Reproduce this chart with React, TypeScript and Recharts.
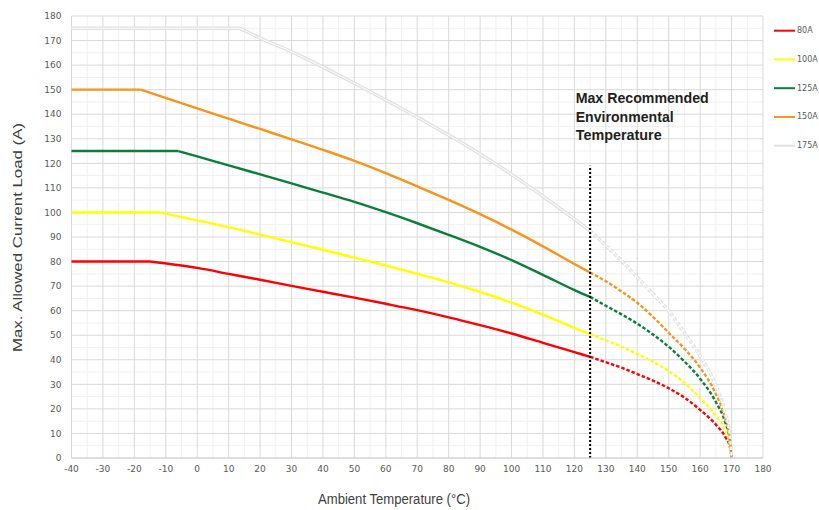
import React from "react";
import { LineChart, Line, XAxis, YAxis, CartesianGrid, ReferenceLine } from "recharts";

type P = { t: number; a: number };

const xTicks = [-40, -30, -20, -10, 0, 10, 20, 30, 40, 50, 60, 70, 80, 90, 100, 110, 120, 130, 140, 150, 160, 170, 180];
const yTicks = [0, 10, 20, 30, 40, 50, 60, 70, 80, 90, 100, 110, 120, 130, 140, 150, 160, 170, 180];
const xMinor = [-35, -25, -15, -5, 5, 15, 25, 35, 45, 55, 65, 75, 85, 95, 105, 115, 125, 135, 145, 155, 165, 175];
const yMinor = [5, 15, 25, 35, 45, 55, 65, 75, 85, 95, 105, 115, 125, 135, 145, 155, 165, 175];

// flat part: first two points; curved part: from the knee onward
const a80Solid: P[] = [
  { t: -40, a: 80 }, { t: -15, a: 80 }, { t: 0, a: 77.4 }, { t: 10, a: 75 }, { t: 20, a: 72.6 },
  { t: 30, a: 70.1 }, { t: 40, a: 67.7 }, { t: 50, a: 65.3 }, { t: 60, a: 62.8 }, { t: 70, a: 60.2 },
  { t: 80, a: 57.3 }, { t: 90, a: 54.1 }, { t: 100, a: 50.7 }, { t: 110, a: 46.9 }, { t: 120, a: 43.1 },
  { t: 125, a: 41.2 },
];
const a80Dash: P[] = [
  { t: 125, a: 41.2 }, { t: 130, a: 39 }, { t: 135, a: 36.8 }, { t: 140, a: 34.2 }, { t: 145, a: 31.5 },
  { t: 150, a: 28.4 }, { t: 155, a: 24.6 }, { t: 160, a: 19.6 }, { t: 165, a: 13.6 }, { t: 168, a: 8.6 },
  { t: 169.5, a: 4.3 }, { t: 170, a: 0 },
];

const a100Solid: P[] = [
  { t: -40, a: 100 }, { t: -12, a: 100 }, { t: 0, a: 96.8 }, { t: 10, a: 94 }, { t: 20, a: 91 },
  { t: 30, a: 87.9 }, { t: 40, a: 84.8 }, { t: 50, a: 81.6 }, { t: 60, a: 78.4 }, { t: 70, a: 75 },
  { t: 80, a: 71.5 }, { t: 90, a: 67.6 }, { t: 100, a: 63.3 }, { t: 110, a: 58.4 }, { t: 120, a: 53 },
  { t: 125, a: 50.4 },
];
const a100Dash: P[] = [
  { t: 125, a: 50.4 }, { t: 130, a: 47.9 }, { t: 135, a: 45.3 }, { t: 140, a: 42.4 }, { t: 145, a: 39.2 },
  { t: 150, a: 35.4 }, { t: 155, a: 30.6 }, { t: 160, a: 24.4 }, { t: 165, a: 17.2 }, { t: 168, a: 11 },
  { t: 169.5, a: 5.4 }, { t: 170, a: 0 },
];

const a125Solid: P[] = [
  { t: -40, a: 125 }, { t: -6, a: 125 }, { t: 0, a: 122.8 }, { t: 10, a: 119.2 }, { t: 20, a: 115.5 },
  { t: 30, a: 111.8 }, { t: 40, a: 108.1 }, { t: 50, a: 104.3 }, { t: 60, a: 100.1 }, { t: 70, a: 95.6 },
  { t: 80, a: 90.9 }, { t: 90, a: 86 }, { t: 100, a: 80.6 }, { t: 110, a: 74.6 }, { t: 120, a: 68.4 },
  { t: 125, a: 65.6 },
];
const a125Dash: P[] = [
  { t: 125, a: 65.6 }, { t: 130, a: 62 }, { t: 135, a: 58.5 }, { t: 140, a: 54.7 }, { t: 145, a: 50.3 },
  { t: 150, a: 45.3 }, { t: 155, a: 39.3 }, { t: 160, a: 32.3 }, { t: 165, a: 22.8 }, { t: 168, a: 14.5 },
  { t: 169.5, a: 7 }, { t: 170, a: 0 },
];

const a150Solid: P[] = [
  { t: -40, a: 150 }, { t: -18, a: 150 }, { t: 0, a: 142.4 }, { t: 10, a: 138.2 }, { t: 20, a: 134 },
  { t: 30, a: 129.8 }, { t: 40, a: 125.5 }, { t: 50, a: 121 }, { t: 60, a: 116 }, { t: 70, a: 110.6 },
  { t: 80, a: 105.1 }, { t: 90, a: 99.3 }, { t: 100, a: 93 }, { t: 110, a: 86.2 }, { t: 120, a: 79 },
  { t: 125, a: 75.5 },
];
const a150Dash: P[] = [
  { t: 125, a: 75.5 }, { t: 130, a: 72 }, { t: 135, a: 67.8 }, { t: 140, a: 63.2 }, { t: 145, a: 57.5 },
  { t: 150, a: 51 }, { t: 155, a: 44.5 }, { t: 160, a: 36.8 }, { t: 165, a: 26 }, { t: 168, a: 16 },
  { t: 169.5, a: 7.5 }, { t: 170, a: 0 },
];

const a175Solid: P[] = [
  { t: -40, a: 175 }, { t: 13.5, a: 175 }, { t: 20, a: 171 }, { t: 30, a: 165.5 }, { t: 40, a: 159.2 },
  { t: 50, a: 152.6 }, { t: 60, a: 145.8 }, { t: 70, a: 138.8 }, { t: 80, a: 131.5 }, { t: 90, a: 123.8 },
  { t: 100, a: 115.5 }, { t: 110, a: 106.6 }, { t: 120, a: 97.3 }, { t: 125, a: 92.5 },
];
const a175Dash: P[] = [
  { t: 125, a: 92.5 }, { t: 130, a: 86.5 }, { t: 135, a: 80.3 }, { t: 140, a: 73.6 }, { t: 145, a: 66.8 },
  { t: 150, a: 59.8 }, { t: 155, a: 51 }, { t: 160, a: 41.5 }, { t: 165, a: 29.5 }, { t: 168, a: 18 },
  { t: 169.5, a: 8.5 }, { t: 170, a: 0 },
];

const seriesNames = ["80A", "100A", "125A", "150A", "175A"];
const seriesColors = ["#ff0000", "#ffff00", "#0a7f3b", "#f7941d", "#e0e0e0"];
const solidData = [a80Solid, a100Solid, a125Solid, a150Solid, a175Solid];
const dashData = [a80Dash, a100Dash, a125Dash, a150Dash, a175Dash];

const annotationLines = ["Max Recommended", "Environmental", "Temperature"];
const annotationWidths = [133, 98, 86];

const W = 819;
const H = 510;
const tickStyle = { fill: "#595959", fontSize: 9, fontFamily: "DejaVu Sans, sans-serif" };
const DASH = "3.5 2";

export default function App() {
  const lines: React.ReactNode[] = [];
  seriesNames.forEach((n, i) => {
    const sw = i === 4 ? 3.5 : 2.4;
    lines.push(
      <Line key={"f" + n} data={solidData[i].slice(0, 2)} dataKey="a" type="linear"
        stroke={seriesColors[i]} strokeWidth={sw} dot={false} isAnimationActive={false} />,
      <Line key={"c" + n} data={solidData[i].slice(1)} dataKey="a" type="monotone"
        stroke={seriesColors[i]} strokeWidth={sw} dot={false} isAnimationActive={false} />,
      <Line key={"d" + n} data={dashData[i]} dataKey="a" type="monotone"
        stroke={seriesColors[i]} strokeWidth={sw} strokeDasharray={DASH} dot={false} isAnimationActive={false} />
    );
  });
  return (
    <div style={{ position: "absolute", left: 0, top: 0, width: W, height: H, background: "#ffffff" }}>
      <LineChart width={W} height={H} margin={{ top: 16, right: 56, bottom: 22, left: 31.5 }}>
        <CartesianGrid stroke="#f0f0f0" verticalValues={xMinor} horizontalValues={yMinor} />
        <CartesianGrid stroke="#d9d9d9" />
        <XAxis
          dataKey="t"
          type="number"
          domain={[-40, 180]}
          ticks={xTicks}
          interval={0}
          tickLine={false}
          axisLine={{ stroke: "#d0d0d0" }}
          tick={tickStyle}
          tickMargin={2}
        />
        <YAxis
          type="number"
          domain={[0, 180]}
          ticks={yTicks}
          interval={0}
          width={40}
          tickLine={false}
          axisLine={false}
          tick={tickStyle}
          tickMargin={4}
        />
        {lines}
        <Line data={a175Solid.slice(0, 2)} dataKey="a" type="linear" stroke="#f8f8f8" strokeWidth={1.2} dot={false} isAnimationActive={false} />
        <Line data={a175Solid.slice(1)} dataKey="a" type="monotone" stroke="#f8f8f8" strokeWidth={1.2} dot={false} isAnimationActive={false} />
        <Line data={a175Dash} dataKey="a" type="monotone" stroke="#f8f8f8" strokeWidth={1.2} strokeDasharray={DASH} dot={false} isAnimationActive={false} />
        <ReferenceLine
          segment={[{ x: 125, y: 0 }, { x: 125, y: 119 }]}
          stroke="#000000"
          strokeWidth={2}
          strokeDasharray="2 2"
        />
      </LineChart>
      <svg
        width={W}
        height={H}
        style={{ position: "absolute", left: 0, top: 0, pointerEvents: "none" }}
      >
        <text
          transform="translate(17,237.5) rotate(-90)"
          textAnchor="middle"
          dominantBaseline="central"
          fontSize={13}
          fontFamily="Liberation Sans, Arial, sans-serif"
          fill="#404040"
          textLength={229}
          lengthAdjust="spacingAndGlyphs"
        >
          Max. Allowed Current Load (A)
        </text>
        <text
          x={394}
          y={504}
          textAnchor="middle"
          fontSize={14}
          fontFamily="Liberation Sans, Arial, sans-serif"
          fill="#404040"
          textLength={152}
          lengthAdjust="spacingAndGlyphs"
        >
          Ambient Temperature (°C)
        </text>
        {annotationLines.map((l, i) => (
          <text
            key={l}
            x={575.7}
            y={103.3 + i * 18.4}
            fontSize={15}
            fontWeight="bold"
            fontFamily="Liberation Sans, Arial, sans-serif"
            fill="#231f20"
            textLength={annotationWidths[i]}
            lengthAdjust="spacingAndGlyphs"
          >
            {l}
          </text>
        ))}
        {seriesNames.map((n, i) => (
          <g key={"lg" + n}>
            <line x1={774} x2={795} y1={30.7 + i * 28.75} y2={30.7 + i * 28.75} stroke={seriesColors[i]} strokeWidth={2} />
            <text
              x={797}
              y={30.7 + i * 28.75}
              dominantBaseline="central"
              fontSize={8}
              fontFamily="DejaVu Sans, sans-serif"
              fill="#595959"
            >
              {n}
            </text>
          </g>
        ))}
      </svg>
    </div>
  );
}
